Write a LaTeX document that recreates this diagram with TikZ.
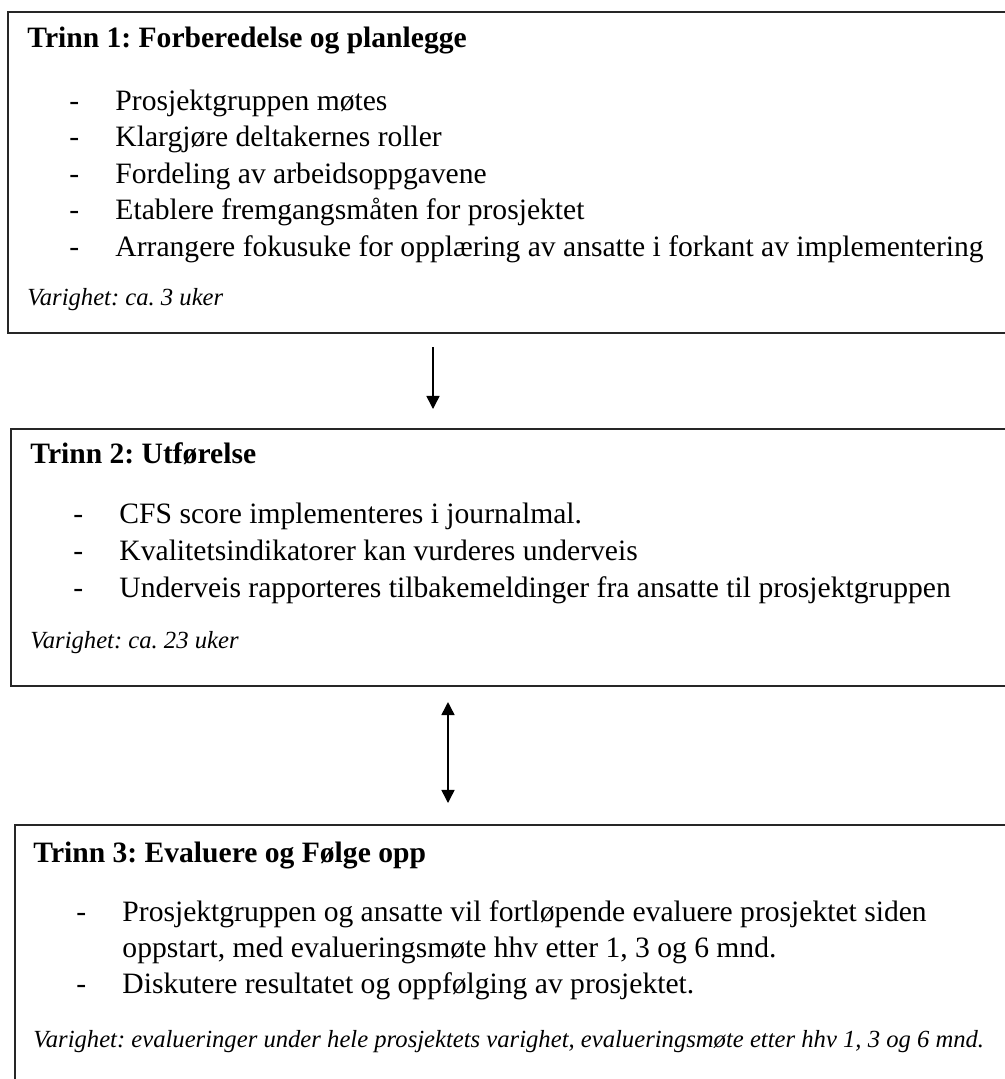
\documentclass[tikz,border=0pt]{standalone}
\usepackage{fontspec}
\setmainfont{Liberation Serif}
\usetikzlibrary{arrows.meta}
\def\px{0.4057pt}
\frenchspacing
\begin{document}
\begin{tikzpicture}[x=0.4057pt,y=-0.4057pt,
  box/.style={draw=black!85, line width=0.8pt, rectangle, inner sep=0pt, anchor=north west, minimum width=1020*\px},
  ttl/.style={anchor=base west, inner sep=0pt, font=\fontsize{12}{14}\selectfont\bfseries},
  itm/.style={anchor=base west, inner sep=0pt, font=\fontsize{12}{14}\selectfont},
  dur/.style={anchor=base west, inner sep=0pt, font=\fontsize{10}{12}\selectfont\itshape},
  arr/.style={line width=0.6pt, -{Triangle[width=5.3pt,length=5.3pt]}},
  darr/.style={line width=0.6pt, {Triangle[width=5.3pt,length=5.3pt]}-{Triangle[width=5.3pt,length=5.3pt]}}
]
\useasboundingbox (0,0) rectangle (1005,1079);
\clip (0,0) rectangle (1005,1079);

% Box 1
\node[box, minimum height=321*\px] (b1) at (7,11) {};
\node[ttl] (t1) at (27,47) {Trinn 1: Forberedelse og planlegge};
\node[itm] (d11) at (69,110) {-};
\node[itm] (i11) at (115,110) {Prosjektgruppen møtes};
\node[itm] (d12) at (69,146.5) {-};
\node[itm] (i12) at (115,146.5) {Klargjøre deltakernes roller};
\node[itm] (d13) at (69,183) {-};
\node[itm] (i13) at (115,183) {Fordeling av arbeidsoppgavene};
\node[itm] (d14) at (69,219.5) {-};
\node[itm] (i14) at (115,219.5) {Etablere fremgangsmåten for prosjektet};
\node[itm] (d15) at (69,256) {-};
\node[itm] (i15) at (115,256) {Arrangere fokusuke for opplæring av ansatte i forkant av implementering};
\node[dur] (v1) at (27,305) {Varighet: ca. 3 uker};

% Box 2
\node[box, minimum height=257*\px] (b2) at (10,428) {};
\node[ttl] (t2) at (30,463) {Trinn 2: Utførelse};
\node[itm] (d21) at (73,523) {-};
\node[itm] (i21) at (119,523) {CFS score implementeres i journalmal.};
\node[itm] (d22) at (73,560) {-};
\node[itm] (i22) at (119,560) {Kvalitetsindikatorer kan vurderes underveis};
\node[itm] (d23) at (73,597) {-};
\node[itm] (i23) at (119,597) {Underveis rapporteres tilbakemeldinger fra ansatte til prosjektgruppen};
\node[dur] (v2) at (30,648) {Varighet: ca. 23 uker};

% Box 3
\node[box, minimum height=300*\px] (b3) at (14,824) {};
\node[ttl] (t3) at (33,862) {Trinn 3: Evaluere og Følge opp};
\node[itm] (d31) at (76,921) {-};
\node[itm] (i31) at (122,921) {Prosjektgruppen og ansatte vil fortløpende evaluere prosjektet siden};
\node[itm] (i31b) at (122,957) {oppstart, med evalueringsmøte hhv etter 1, 3 og 6 mnd.};
\node[itm] (d32) at (76,993) {-};
\node[itm] (i32) at (122,993) {Diskutere resultatet og oppfølging av prosjektet.};
\node[dur] (v3) at (33,1047) {Varighet: evalueringer under hele prosjektets varighet, evalueringsmøte etter hhv 1, 3 og 6 mnd.};

% Connectors
\coordinate (a1s) at (433,347);
\coordinate (a1e) at (433,409);
\coordinate (a2s) at (448,702);
\coordinate (a2e) at (448,803);
\draw[arr] (a1s) -- (a1e);
\draw[darr] (a2s) -- (a2e);
\end{tikzpicture}
\end{document}
